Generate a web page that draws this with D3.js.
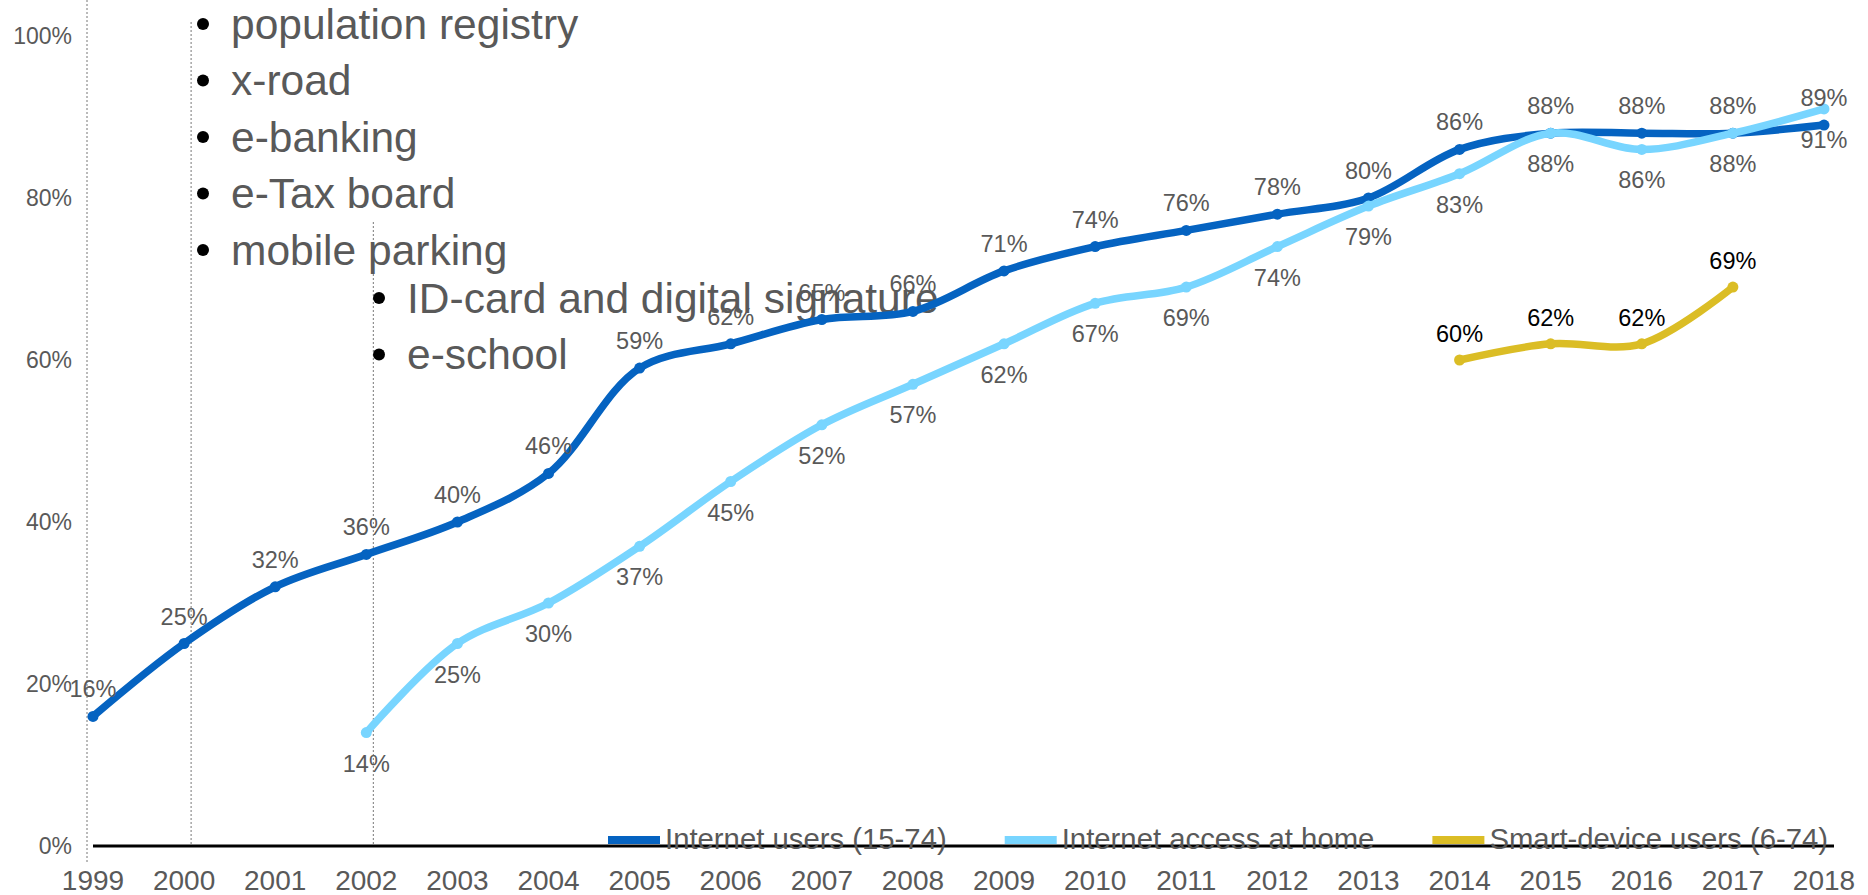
<!DOCTYPE html>
<html lang="en">
<head>
    <meta charset="UTF-8">
    <title>Internet usage in Estonia</title>
    <script src="https://cdnjs.cloudflare.com/ajax/libs/d3/7.8.5/d3.min.js"></script>
    <style>
        body {
            margin: 0;
            background-color: #fff;
            font-family: "Liberation Sans", Arial, sans-serif;
        }
        svg {
            display: block;
        }
    </style>
</head>
<body>
<svg id="chart" width="1868" height="895"></svg>

<script>
    // Data
    const years = d3.range(1999, 2019);
    const internetUsers = [16, 25, 32, 36, 40, 46, 59, 62, 65, 66, 71, 74, 76, 78, 80, 86, 88, 88, 88, 89];
    const homeYears = d3.range(2002, 2019);
    const homeAccess = [14, 25, 30, 37, 45, 52, 57, 62, 67, 69, 74, 79, 83, 88, 86, 88, 91];
    const smartYears = [2014, 2015, 2016, 2017];
    const smartUsers = [60, 62, 62, 69];
    const yTicks = [0, 20, 40, 60, 80, 100];

    const seriesNames = ["Internet users (15-74)", "Internet access at home", "Smart-device users (6-74)"];
    const eventsA = ["population registry", "x-road", "e-banking", "e-Tax board", "mobile parking"];
    const eventsB = ["ID-card and digital signature", "e-school"];

    const gray = "#595959";
    const colors = ["#0563c1", "#78d5ff", "#dbbd25"];

    const svg = d3.select("#chart");

    const x = d3.scalePoint()
        .domain(years)
        .range([93, 1824]);

    const y = d3.scaleLinear()
        .domain([0, 100])
        .range([846, 36]);

    // y tick labels
    svg.append("g")
        .selectAll("text")
        .data(yTicks)
        .enter()
        .append("text")
        .attr("x", 72)
        .attr("y", d => y(d))
        .attr("text-anchor", "end")
        .attr("dominant-baseline", "central")
        .attr("font-size", 23)
        .attr("fill", gray)
        .text(d => d + "%");

    // year labels
    svg.append("g")
        .selectAll("text")
        .data(years)
        .enter()
        .append("text")
        .attr("x", d => x(d))
        .attr("y", 880)
        .attr("text-anchor", "middle")
        .attr("dominant-baseline", "central")
        .attr("font-size", 28)
        .attr("fill", gray)
        .text(d => d);

    // dotted marker lines for events
    const guides = [
        {year: 1999, dx: -6, top: 0, bottom: 862},
        {year: 2000, dx: 7, top: 22, bottom: 846},
        {year: 2002, dx: 7, top: 222, bottom: 846}
    ];
    svg.append("g")
        .selectAll("line")
        .data(guides)
        .enter()
        .append("line")
        .attr("x1", d => x(d.year) + d.dx)
        .attr("x2", d => x(d.year) + d.dx)
        .attr("y1", d => d.top)
        .attr("y2", d => d.bottom)
        .attr("stroke", "#777")
        .attr("stroke-width", 1)
        .attr("stroke-dasharray", "2,2");

    // baseline
    svg.append("line")
        .attr("x1", x(1999))
        .attr("x2", x(2018) + 10)
        .attr("y1", y(0))
        .attr("y2", y(0))
        .attr("stroke", "#000")
        .attr("stroke-width", 3);

    // bullet lists
    function bullets(list, bx, startY) {
        const g = svg.append("g");
        list.forEach((t, i) => {
            const cy = startY + i * 56.5;
            g.append("circle")
                .attr("cx", bx)
                .attr("cy", cy)
                .attr("r", 6)
                .attr("fill", "#000");
            g.append("text")
                .attr("x", bx + 28)
                .attr("y", cy)
                .attr("dominant-baseline", "central")
                .attr("font-size", 42.5)
                .attr("fill", gray)
                .text(t);
        });
    }
    bullets(eventsA, 203, 24);
    bullets(eventsB, 379, 298);

    // lines
    const line = d3.line()
        .x(d => x(d.year))
        .y(d => y(d.value))
        .curve(d3.curveCatmullRom.alpha(0.5));

    const series = [
        {years: years, values: internetUsers, color: colors[0], labelDy: -27, labelColor: gray},
        {years: homeYears, values: homeAccess, color: colors[1], labelDy: 31, labelColor: gray},
        {years: smartYears, values: smartUsers, color: colors[2], labelDy: -26, labelColor: "#000"}
    ];

    // draw lines in order: dark, yellow, light on top of dark
    const drawOrder = [0, 2, 1];
    drawOrder.forEach(i => {
        const s = series[i];
        const pts = s.years.map((yr, j) => ({year: yr, value: s.values[j]}));
        const g = svg.append("g");
        g.append("path")
            .datum(pts)
            .attr("d", line)
            .attr("fill", "none")
            .attr("stroke", s.color)
            .attr("stroke-width", 7.5)
            .attr("stroke-linecap", "round");
        g.selectAll("circle")
            .data(pts)
            .enter()
            .append("circle")
            .attr("cx", d => x(d.year))
            .attr("cy", d => y(d.value))
            .attr("r", 5.5)
            .attr("fill", s.color);
    });

    // data labels
    series.forEach(s => {
        const pts = s.years.map((yr, j) => ({year: yr, value: s.values[j]}));
        svg.append("g")
            .selectAll("text")
            .data(pts)
            .enter()
            .append("text")
            .attr("x", d => x(d.year))
            .attr("y", d => y(d.value) + s.labelDy)
            .attr("text-anchor", "middle")
            .attr("dominant-baseline", "central")
            .attr("font-size", 23.5)
            .attr("fill", s.labelColor)
            .text(d => d.value + "%");
    });

    // legend
    const legend = svg.append("g");
    let lx = 608;
    seriesNames.forEach((name, i) => {
        legend.append("rect")
            .attr("x", lx)
            .attr("y", 836)
            .attr("width", 52)
            .attr("height", 8)
            .attr("fill", colors[i]);
        legend.append("circle")
            .attr("cx", lx + 26)
            .attr("cy", 840)
            .attr("r", 3)
            .attr("fill", colors[i]);
        const t = legend.append("text")
            .attr("x", lx + 57)
            .attr("y", 838)
            .attr("dominant-baseline", "central")
            .attr("font-size", 29.3)
            .attr("fill", gray)
            .text(name);
        lx += 57 + t.node().getComputedTextLength() + 58;
    });
</script>
</body>
</html>
